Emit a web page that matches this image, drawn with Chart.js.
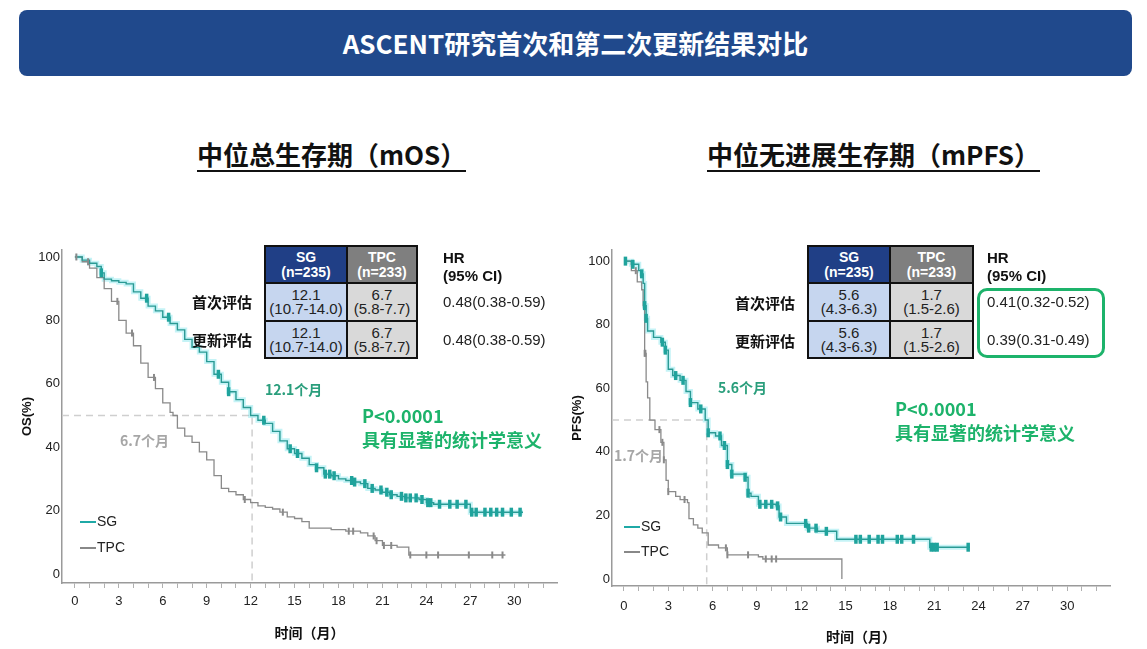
<!DOCTYPE html>
<html>
<head>
<meta charset="utf-8">
<title>ASCENT研究首次和第二次更新结果对比</title>
<script src="https://cdn.jsdelivr.net/npm/chart.js@4"></script>
<style>
  body { margin: 0; width: 1147px; height: 649px; position: relative; background: #fff; overflow: hidden;
         font-family: "Liberation Sans", Arial, sans-serif; color: #111; }
  .abs { position: absolute; }
  canvas { position: absolute; }
  #banner { left: 19px; top: 10px; width: 1113px; height: 66px; background: #20498c; border-radius: 8px;
            color: #fff; font: bold 26px "Noto Sans CJK SC"; text-align: center; line-height: 66px; }
  .sub { font: bold 26px "Noto Sans CJK SC"; line-height: 32px; border-bottom: 2px solid #111; white-space: nowrap; }
  .tbl { display: grid; background: #111; padding: 2px; gap: 2px;
         grid-template-rows: 35px 36px 35px; }
  .tbl div { display: flex; flex-direction: column; justify-content: center; align-items: center;
             text-align: center; font-size: 15px; line-height: 14px; color: #222; }
  .tbl .hs { background: #203f86; color: #fff; font-weight: bold; font-size: 14px; line-height: 15px; }
  .tbl .ht { background: #7f7f7f; color: #fff; font-weight: bold; font-size: 14px; line-height: 15px; }
  .tbl .bs { background: #c6d6ef; }
  .tbl .bt { background: #d9d9d9; }
  .hr { font: bold 15px "Liberation Sans", Arial; line-height: 18px; }
  .hrv { font-size: 15px; color: #222; white-space: nowrap; }
  .rowlab { font: bold 15px "Noto Sans CJK SC"; text-align: right; width: 80px; white-space: nowrap; }
  .ann { font: bold 14px "Noto Sans CJK SC"; white-space: nowrap; }
  .sig { font: bold 18px "Noto Sans CJK SC"; color: #1db36b; line-height: 24px; white-space: nowrap; }
  .leg { font-size: 14px; color: #222; white-space: nowrap; line-height: 16px; }
  .leg span { display: inline-block; width: 16px; height: 0; border-top: 2px solid; vertical-align: middle; margin-right: 1px; }
  #hrbox { left: 977px; top: 288px; width: 128px; height: 70px; box-sizing: border-box;
           border: 3px solid #1db36b; border-radius: 10px; }
</style>
</head>
<body>
<div id="banner" class="abs">ASCENT研究首次和第二次更新结果对比</div>
<div class="abs sub" style="left:197px;top:138px;">中位总生存期（mOS）</div>
<div class="abs sub" style="left:707px;top:138px;">中位无进展生存期（mPFS）</div>

<canvas id="osChart" width="565" height="410" style="left:0;top:240px;"></canvas>
<canvas id="pfsChart" width="577" height="410" style="left:570px;top:240px;"></canvas>

<!-- OS table -->
<div class="abs tbl" style="left:264px;top:245px;grid-template-columns:80px 68px;">
  <div class="hs">SG<br>(n=235)</div><div class="ht">TPC<br>(n=233)</div>
  <div class="bs">12.1<br>(10.7-14.0)</div><div class="bt">6.7<br>(5.8-7.7)</div>
  <div class="bs">12.1<br>(10.7-14.0)</div><div class="bt">6.7<br>(5.8-7.7)</div>
</div>
<div class="abs hr" style="left:443px;top:249px;">HR<br>(95% CI)</div>
<div class="abs hrv" style="left:443px;top:293px;">0.48(0.38-0.59)</div>
<div class="abs hrv" style="left:443px;top:331px;">0.48(0.38-0.59)</div>
<div class="abs rowlab" style="left:172px;top:291px;">首次评估</div>
<div class="abs rowlab" style="left:172px;top:329px;">更新评估</div>

<!-- PFS table -->
<div class="abs tbl" style="left:807px;top:245px;grid-template-columns:80px 81px;">
  <div class="hs">SG<br>(n=235)</div><div class="ht">TPC<br>(n=233)</div>
  <div class="bs">5.6<br>(4.3-6.3)</div><div class="bt">1.7<br>(1.5-2.6)</div>
  <div class="bs">5.6<br>(4.3-6.3)</div><div class="bt">1.7<br>(1.5-2.6)</div>
</div>
<div class="abs hr" style="left:987px;top:249px;">HR<br>(95% CI)</div>
<div id="hrbox" class="abs"></div>
<div class="abs hrv" style="left:987px;top:293px;">0.41(0.32-0.52)</div>
<div class="abs hrv" style="left:987px;top:331px;">0.39(0.31-0.49)</div>
<div class="abs rowlab" style="left:715px;top:292px;">首次评估</div>
<div class="abs rowlab" style="left:715px;top:330px;">更新评估</div>

<!-- annotations -->
<div class="abs ann" style="left:265px;top:379px;color:#2a9e7c;">12.1个月</div>
<div class="abs ann" style="left:120px;top:430px;color:#a6a6a6;">6.7个月</div>
<div class="abs sig" style="left:362px;top:403px;">P&lt;0.0001<br>具有显著的统计学意义</div>
<div class="abs ann" style="left:718px;top:377px;color:#2a9e7c;">5.6个月</div>
<div class="abs ann" style="left:614px;top:445px;color:#a6a6a6;">1.7个月</div>
<div class="abs sig" style="left:895px;top:396px;">P&lt;0.0001<br>具有显著的统计学意义</div>

<div class="abs leg" style="left:80px;top:513px;"><span style="color:#1fa9a6"></span>SG</div>
<div class="abs leg" style="left:80px;top:539px;"><span style="color:#888"></span>TPC</div>
<div class="abs leg" style="left:624px;top:518px;"><span style="color:#1fa9a6"></span>SG</div>
<div class="abs leg" style="left:624px;top:543px;"><span style="color:#888"></span>TPC</div>

<script>
// Kaplan-Meier curves: [month, survival %]
const osSg = [[0,100],[0.5,99],[1,98],[1.5,97],[1.8,95],[2,93],[2.5,92.5],[3,92],[3.5,91.5],[4,89],[4.5,87],
  [5,84.5],[5.5,83],[6,81],[6.5,79],[7,77],[7.5,74],[8,71.5],[8.5,70],[9,67],[9.5,63],[10,60.5],[10.5,57.5],
  [11,55],[11.5,52.5],[12,50],[12.5,48.5],[13,47.5],[13.5,45],[14,42],[14.5,39.5],[15,38],[15.5,36.5],[16,34.5],
  [16.5,33.5],[17,31.5],[17.5,31],[18,30],[18.5,29.5],[19,29],[19.5,28.5],[20,27],[20.5,26.5],[21,25.8],[21.5,25],
  [22,24.5],[22.5,24],[23.5,23.5],[24,22.5],[24.5,22],[27,19.5],[30.6,19.5]];
const osTpc = [[0,100],[0.5,98.5],[1,96.5],[1.5,93.5],[2,90],[2.5,86],[3,80],[3.5,76],[4,72],[4.5,66.5],[5,62],
  [5.5,58.5],[6,54],[6.5,51],[6.7,50],[7,46],[7.5,43.5],[8,41.5],[8.5,38.5],[9,36],[9.5,31],[10,27],[10.5,26],
  [11,25],[11.5,23.5],[12,22.5],[12.5,21.5],[13,21],[13.5,20.5],[14,19.5],[14.5,18],[15,17.5],[15.5,16.5],[16,14.5],
  [17.5,14],[18.5,13.5],[19.5,13],[20,12],[20.5,10.5],[21,9],[22,8.5],[22.8,6],[29.4,6]];
const pfsSg = [[0,100],[0.5,99],[1,97],[1.2,96],[1.3,93],[1.4,86],[1.5,82],[1.6,78],[2,76],[2.5,74.5],[2.8,72],
  [3,66],[3.3,64],[3.8,62.5],[4.2,59],[4.5,55.5],[5,53.5],[5.5,50],[5.7,46],[6.2,45],[6.6,42],[7,36],[7.3,33],
  [8.2,32],[8.4,27],[8.6,26],[9.1,23.5],[10.3,23],[10.5,19.5],[11,17.5],[12.4,16],[13.1,15],[14.4,12.5],
  [20.7,10],[23.4,10]];
const pfsTpc = [[0,100],[0.5,97],[0.9,93.5],[1.2,91],[1.3,86],[1.4,71],[1.5,62],[1.6,57],[1.75,50],[2.1,47],
  [2.5,43],[2.7,37.5],[2.85,31],[3,27.5],[3.5,26],[3.8,25],[4.3,24],[4.4,19],[4.7,17],[5,16],[5.3,14.5],
  [5.7,10.7],[6.4,9.8],[7,7.6],[9.1,7],[9.4,6.3],[14.75,0]];

// censoring times (months)
const osSgCens = [1.8,4.9,6.4,9.8,10.5,12.9,14.7,15.2,16.5,17.1,17.4,17.7,18.9,19.1,19.8,20.3,20.9,21.3,21.6,
  22.3,22.6,22.9,23.3,23.7,24.1,24.3,24.9,25.6,26.1,26.7,27.1,27.4,28.0,28.4,28.8,29.2,29.8,30.4];
const osTpcCens = [0.1,0.9,2.9,3.9,5.4,11.6,14.2,18.7,19.0,20.4,20.6,21.1,21.6,22.9,24.0,24.8,26.9,28.5,29.2];
const pfsSgCens = [0.1,0.6,1.2,1.4,1.5,2.6,2.8,3.5,4.0,4.5,5.2,5.7,6.5,6.8,7.0,7.3,8.2,8.4,9.2,9.6,10.0,10.4,
  10.6,12.3,12.5,13.0,13.7,15.7,16.0,16.6,17.2,17.5,18.5,18.8,19.6,20.8,21.0,21.2,23.3];
const pfsTpcCens = [0.8,1.35,1.4,1.45,2.4,2.6,2.7,3.0,4.1,6.9,7.0,8.4,9.6,10.0,10.3];

const xTickLabels = [0,3,6,9,12,15,18,21,24,27,30];
const yTickLabels = [0,20,40,60,80,100];
const osMedian = 12.1, pfsMedian = 5.6;

const TEAL = '#2a9a94', TEAL_GLOW = 'rgba(90,220,230,0.35)', GREY = '#8a8a8a';

Chart.defaults.font.family = '"Liberation Sans", Arial, sans-serif';
Chart.defaults.color = '#222';

const toPts = arr => arr.map(p => ({x: p[0], y: p[1]}));
function survAt(curve, t) {
  let s = curve[0][1];
  for (const p of curve) if (p[0] <= t) s = p[1];
  return s;
}
const censPts = (curve, times) => times.map(t => ({x: t, y: survAt(curve, t)}));

function makeChart(id, sg, tpc, sgCens, tpcCens, median, yTitle, box) {
  const datasets = [
    { data: [{x: box.xMin, y: 50}, {x: median, y: 50}, {x: median, y: box.yMin}],
      borderColor: '#cfcfcf', borderWidth: 1.5, borderDash: [7, 5], pointRadius: 0, order: 6 },
    { data: toPts(tpc), stepped: true, borderColor: GREY, borderWidth: 1.3, pointRadius: 0, order: 4 },
    { data: toPts(sg), stepped: true, borderColor: TEAL_GLOW, borderWidth: 5, pointRadius: 0, order: 5 },
    { data: toPts(sg), stepped: true, borderColor: TEAL, borderWidth: 1.4, pointRadius: 0, order: 3 },
    { data: censPts(tpc, tpcCens), showLine: false, pointStyle: 'line', rotation: 90, pointRadius: 3.5,
      borderColor: GREY, borderWidth: 2, order: 2 },
    { data: censPts(sg, sgCens), showLine: false, pointStyle: 'line', rotation: 90, pointRadius: 4.5,
      borderColor: '#1fa39c', borderWidth: 3.5, order: 1 }
  ];
  return new Chart(document.getElementById(id), {
    type: 'line',
    data: { datasets },
    options: {
      responsive: false,
      animation: false,
      layout: { padding: { top: 10, right: box.padRight, left: 0, bottom: 0 } },
      plugins: { legend: { display: false }, tooltip: { enabled: false } },
      scales: {
        x: {
          type: 'linear', min: box.xMin, max: box.xMax,
          afterFit: s => { s.height = box.xHeight; },
          border: { color: '#9a9a9a', width: 1.5 },
          grid: { drawOnChartArea: false, drawTicks: true, tickLength: 5, color: '#b0b0b0' },
          ticks: { stepSize: 1, includeBounds: false, autoSkip: false, maxRotation: 0, padding: box.xPad,
                   font: { size: 13 }, color: '#222',
                   callback: v => xTickLabels.includes(v) ? String(v) : '' },
          title: { display: true, text: '时间（月）', color: '#111',
                   font: { family: '"Noto Sans CJK SC"', size: 14, weight: 'bold' },
                   padding: { top: 0, bottom: box.xTitlePad } }
        },
        y: {
          min: box.yMin, max: box.yMax,
          afterFit: s => { s.width = box.yWidth; },
          border: { color: '#9a9a9a', width: 1.5 },
          grid: { drawOnChartArea: false, drawTicks: false },
          ticks: { stepSize: 20, includeBounds: false, padding: 2, font: { size: 13 }, color: '#222',
                   callback: v => yTickLabels.includes(v) ? String(v) : '' },
          title: { display: true, text: yTitle, color: '#111',
                   font: { size: 13, weight: 'bold' }, padding: { top: box.yTitlePad, bottom: 0 } }
        }
      }
    }
  });
}

makeChart('osChart', osSg, osTpc, osSgCens, osTpcCens, osMedian, 'OS(%)',
  { xMin: -0.88, xMax: 32.92, yMin: -2.84, yMax: 102.2, padRight: 5, xHeight: 67, yWidth: 62,
    xPad: 6, xTitlePad: 9, yTitlePad: 20 });
makeChart('pfsChart', pfsSg, pfsTpc, pfsSgCens, pfsTpcCens, pfsMedian, 'PFS(%)',
  { xMin: -0.81, xMax: 32.9, yMin: -2.2, yMax: 103.5, padRight: 37, xHeight: 64, yWidth: 42,
    xPad: 8, xTitlePad: 5, yTitlePad: 0 });
</script>
</body>
</html>
